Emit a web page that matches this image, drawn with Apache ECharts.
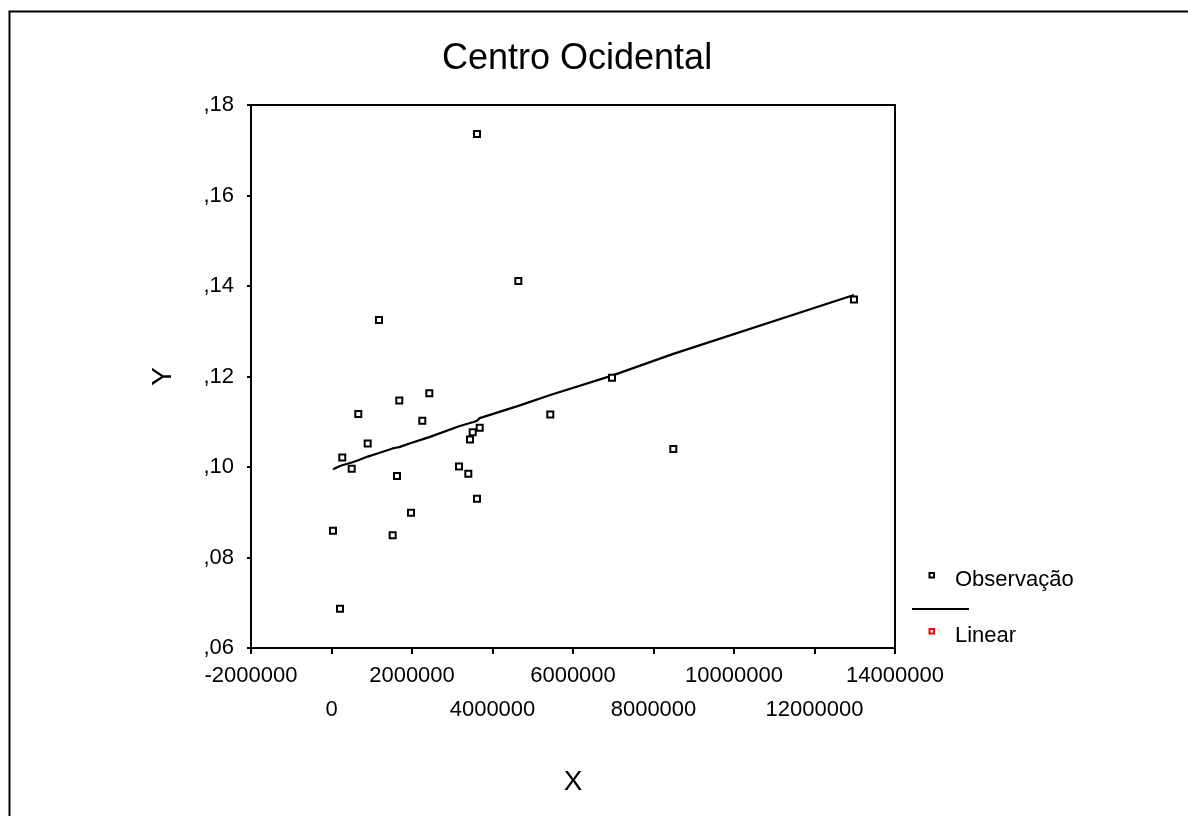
<!DOCTYPE html>
<html>
<head>
<meta charset="utf-8">
<script src="https://cdn.jsdelivr.net/npm/echarts@6/dist/echarts.min.js"></script>
<style>
html,body{margin:0;padding:0;background:#fff;}
#chart{width:1188px;height:816px;}
</style>
</head>
<body>
<div id="chart"></div>
<script>
// Observations (X in units, Y proportion)
const obsX = [3615000, 4641000, 1180000, 12980000, 2430000, 1684000, 666000, 2256000, 899000, 268000,
              502000, 1627000, 3168000, 3399000, 3508000, 3441000, 3682000, 3615000, 1975000, 37000,
              1520000, 211000, 5436000, 6969000, 8492000];
const obsY = [0.1736, 0.1411, 0.1325, 0.1370, 0.1163, 0.1147, 0.1117, 0.1102, 0.1052, 0.1021,
              0.0996, 0.0980, 0.1001, 0.0985, 0.1077, 0.1061, 0.1087, 0.0930, 0.0899, 0.0859,
              0.0849, 0.0687, 0.1116, 0.1197, 0.1040];
// Fitted (Linear) values, ordered by X
const fitX = [37000, 211000, 268000, 502000, 666000, 899000, 1180000, 1520000, 1627000, 1684000,
              1975000, 2256000, 2430000, 3168000, 3399000, 3441000, 3508000, 3615000, 3682000,
              4641000, 5436000, 6969000, 8492000, 12980000];
const fitY = [0.0995, 0.1002, 0.1004, 0.1010, 0.1015, 0.1023, 0.1031, 0.1041, 0.1043, 0.1044,
              0.1053, 0.1061, 0.1066, 0.1090, 0.1096, 0.1097, 0.1099, 0.1102, 0.1108,
              0.1135, 0.1159, 0.1202, 0.1250, 0.1380];
const xTicks = [-2000000, 0, 2000000, 4000000, 6000000, 8000000, 10000000, 12000000, 14000000];
const xLabelsRow1 = [-2000000, 2000000, 6000000, 10000000, 14000000];
const xLabelsRow2 = [0, 4000000, 8000000, 12000000];
const yTicks = [0.06, 0.08, 0.10, 0.12, 0.14, 0.16, 0.18];
const titleText = 'Centro Ocidental';
const seriesNames = ['Observação', 'Linear'];

const FONT = '"Liberation Sans", Arial, sans-serif';
const chart = echarts.init(document.getElementById('chart'), null, {renderer: 'canvas'});

const obsData = obsX.map((x, i) => [x, obsY[i]]);
const fitData = fitX.map((x, i) => [x, fitY[i]]);

const xMin = xTicks[0], xMax = xTicks[xTicks.length - 1], xInt = xTicks[1] - xTicks[0];

const option = {
  animation: false,
  backgroundColor: '#fff',
  title: {
    text: titleText,
    left: 437,
    top: 36,
    textStyle: {fontFamily: FONT, fontSize: 36, fontWeight: 'normal', color: '#000'}
  },
  grid: {
    left: 251, top: 105, right: 293, bottom: 168,
    show: true, borderColor: '#000', borderWidth: 2, backgroundColor: 'transparent'
  },
  xAxis: [
    {
      type: 'value', position: 'bottom',
      min: xMin, max: xMax, interval: xInt,
      name: 'X', nameLocation: 'middle', nameGap: 120,
      nameTextStyle: {fontFamily: FONT, fontSize: 28, color: '#000'},
      axisLine: {show: true, onZero: false, lineStyle: {color: '#000', width: 2}},
      axisTick: {show: true, length: 6, lineStyle: {color: '#000', width: 2}},
      axisLabel: {
        fontFamily: FONT, fontSize: 22, color: '#000', margin: 17,
        customValues: xLabelsRow1,
        formatter: function (v) { return String(v); }
      },
      splitLine: {show: false}
    },
    {
      type: 'value', position: 'bottom',
      min: xMin, max: xMax, interval: xInt,
      axisLine: {show: false, onZero: false},
      axisTick: {show: false},
      axisLabel: {
        fontFamily: FONT, fontSize: 22, color: '#000', margin: 51,
        customValues: xLabelsRow2,
        formatter: function (v) { return String(v); }
      },
      splitLine: {show: false}
    }
  ],
  yAxis: {
    type: 'value',
    min: yTicks[0], max: yTicks[yTicks.length - 1], interval: 0.02,
    name: 'Y', nameLocation: 'middle', nameGap: 74, nameRotate: 90,
    nameTextStyle: {fontFamily: FONT, fontSize: 28, color: '#000'},
    axisLine: {show: true, onZero: false, lineStyle: {color: '#000', width: 2}},
    axisTick: {show: true, length: 4, lineStyle: {color: '#000', width: 2}},
    axisLabel: {
      fontFamily: FONT, fontSize: 22, color: '#000', margin: 17,
      showMinLabel: true, showMaxLabel: true,
      formatter: function (v) { return ',' + v.toFixed(2).split('.')[1]; }
    },
    splitLine: {show: false}
  },
  series: [
    {
      name: seriesNames[1],
      type: 'line',
      data: fitData,
      showSymbol: false,
      symbol: 'none',
      lineStyle: {color: '#000', width: 2.2},
      z: 2
    },
    {
      name: seriesNames[0],
      type: 'scatter',
      data: obsData,
      symbol: 'rect',
      symbolSize: 6,
      itemStyle: {color: '#fff', borderColor: '#000', borderWidth: 2, opacity: 1},
      z: 3
    }
  ],
  graphic: [
    {type: 'rect', left: 7, top: 9, shape: {x: 0, y: 0, width: 1400, height: 1000},
     style: {fill: null, stroke: '#000', lineWidth: 2}, silent: true},
    {type: 'rect', shape: {x: 929.5, y: 573, width: 4.5, height: 4.5},
     style: {fill: '#fff', stroke: '#000', lineWidth: 2}},
    {type: 'text', x: 955, y: 580, style: {text: seriesNames[0], font: '22px ' + FONT, fill: '#000', verticalAlign: 'middle'}},
    {type: 'line', shape: {x1: 912, y1: 609, x2: 969, y2: 609}, style: {stroke: '#000', lineWidth: 2}},
    {type: 'rect', shape: {x: 929.5, y: 629, width: 4.5, height: 4.5},
     style: {fill: '#fff', stroke: '#f00', lineWidth: 2}},
    {type: 'text', x: 955, y: 636, style: {text: seriesNames[1], font: '22px ' + FONT, fill: '#000', verticalAlign: 'middle'}}
  ]
};
chart.setOption(option);
</script>
</body>
</html>
